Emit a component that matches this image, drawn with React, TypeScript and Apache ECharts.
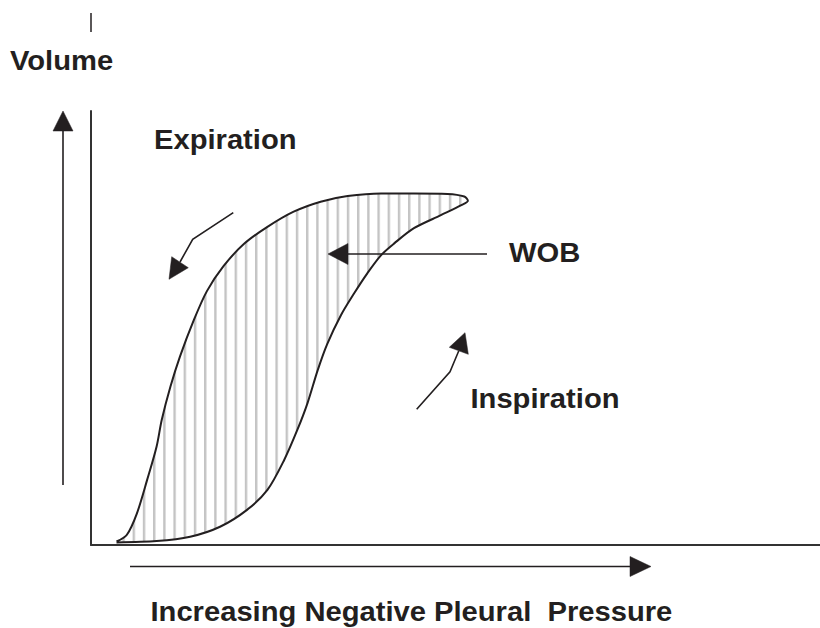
import React, { useEffect, useRef } from "react";
import * as echarts from "echarts";

// Pressure–volume loop, in chart units: x = increasing negative pleural pressure (0–100),
// y = volume (0–100).
const expirationLimb: [number, number][] = [
  [3.5, 0.8], [4.9, 2.3], [6.3, 7.3], [7.7, 15.0], [9.0, 22.7], [9.7, 28.8],
  [10.9, 36.5], [12.2, 43.4], [14.1, 51.8], [15.9, 58.5], [18.2, 64.3],
  [21.0, 69.4], [24.2, 73.3], [27.8, 76.8], [31.5, 79.1], [35.2, 80.4],
  [39.8, 81.0], [44.3, 81.0], [48.9, 80.9], [51.2, 80.3], [51.7, 79.3],
];
const inspirationLimb: [number, number][] = [
  [50.8, 78.3], [48.0, 76.0], [44.3, 73.0], [41.6, 69.5], [39.8, 66.8],
  [37.9, 62.6], [36.1, 58.0], [34.3, 53.0], [32.4, 46.3], [31.1, 40.3],
  [29.7, 32.7], [28.3, 26.5], [26.5, 19.6], [24.2, 12.7], [21.4, 8.1],
  [17.7, 4.2], [13.6, 1.9], [9.0, 0.9], [3.5, 0.6],
];
const loopPoints: [number, number][] = [...expirationLimb, ...inspirationLimb];

const axisMin = 0;
const axisMax = 100;

const volumeLabel = "Volume";
const expirationLabel = "Expiration";
const wobLabel = "WOB";
const inspirationLabel = "Inspiration";
const pressureLabel = "Increasing Negative Pleural  Pressure";

const INK = "#231f20";
const FONT = 'bold 27px "Liberation Sans", Arial, Helvetica, sans-serif';

const hatchSvg =
  '<svg xmlns="http://www.w3.org/2000/svg" width="10.2" height="10">' +
  '<rect x="0" y="0" width="2.4" height="10" fill="#c4c4c4"/></svg>';
const hatchPattern: any = {
  image: "data:image/svg+xml;charset=utf-8," + encodeURIComponent(hatchSvg),
  repeat: "repeat",
  imageWidth: 10.2,
  imageHeight: 10,
  x: 5,
  y: 0,
};

function label(text: string, x: number, y: number): any {
  return {
    type: "text",
    x,
    y,
    scaleX: 1.08,
    z: 10,
    style: {
      text,
      font: FONT,
      fill: INK,
      textAlign: "left",
      textVerticalAlign: "middle",
      align: "left",
      verticalAlign: "middle",
    },
  };
}

function seg(points: number[][], width = 1.6): any {
  return {
    type: "polyline",
    z: 10,
    shape: { points },
    style: { stroke: INK, lineWidth: width, fill: "none" },
  };
}

function head(points: number[][]): any {
  return {
    type: "polygon",
    z: 10,
    shape: { points },
    style: { fill: INK, stroke: INK, lineWidth: 0.5 },
  };
}

export default function App() {
  const ref = useRef<HTMLDivElement>(null);

  useEffect(() => {
    if (!ref.current) return;
    const chart = echarts.init(ref.current, undefined, { renderer: "svg" });
    chart.setOption({
      animation: false,
      backgroundColor: "#ffffff",
      grid: { left: 91, right: 0, top: 111, bottom: 83 },
      xAxis: {
        type: "value",
        min: axisMin,
        max: axisMax,
        axisLine: { show: true, onZero: false, lineStyle: { color: "#333333", width: 2 } },
        axisTick: { show: false },
        axisLabel: { show: false },
        splitLine: { show: false },
      },
      yAxis: {
        type: "value",
        min: axisMin,
        max: axisMax,
        axisLine: { show: true, onZero: false, lineStyle: { color: "#333333", width: 2 } },
        axisTick: { show: false },
        axisLabel: { show: false },
        splitLine: { show: false },
      },
      series: [
        {
          type: "custom",
          z: 1,
          silent: true,
          data: loopPoints,
          encode: { x: 0, y: 1 },
          renderItem: (params: any, api: any) => {
            if (params.dataIndex !== 0) return null;
            const pts = loopPoints.map((p) => api.coord(p));
            return {
              type: "polygon",
              shape: { points: pts, smooth: 0.3 },
              style: { fill: hatchPattern, stroke: "none" },
            };
          },
        },
        {
          type: "line",
          z: 3,
          silent: true,
          data: loopPoints,
          showSymbol: false,
          smooth: 0.3,
          lineStyle: { color: INK, width: 2 },
        },
      ],
      graphic: [
        // small tick above the Volume label
        seg([[91, 13], [91, 32]], 1.5),
        // vertical "Volume" arrow
        seg([[63, 485], [63, 128]]),
        head([[53, 131], [73, 131], [63, 111]]),
        // horizontal pressure arrow
        seg([[130, 566.5], [632, 566.5]]),
        head([[630, 556.5], [630, 576.5], [651, 566.5]]),
        // WOB pointer
        seg([[487, 254], [345, 254]]),
        head([[328, 254], [348, 243.5], [348, 264.5]]),
        // expiration direction
        seg([[233.3, 212.7], [192.7, 239.3], [180, 262]]),
        head([[169, 279.3], [171.7, 256.7], [188.3, 267.7]]),
        // inspiration direction
        seg([[416.7, 409.3], [450, 371.7], [458.8, 350.8]]),
        head([[465, 332.7], [449.3, 347.3], [468.3, 354.3]]),
        label(volumeLabel, 10, 61),
        label(expirationLabel, 154, 140),
        label(wobLabel, 509, 253),
        label(inspirationLabel, 470.5, 399),
        label(pressureLabel, 150.5, 612),
      ],
    });
    return () => chart.dispose();
  }, []);

  return (
    <div
      ref={ref}
      style={{ position: "absolute", left: 0, top: 0, width: 820, height: 628 }}
    />
  );
}
